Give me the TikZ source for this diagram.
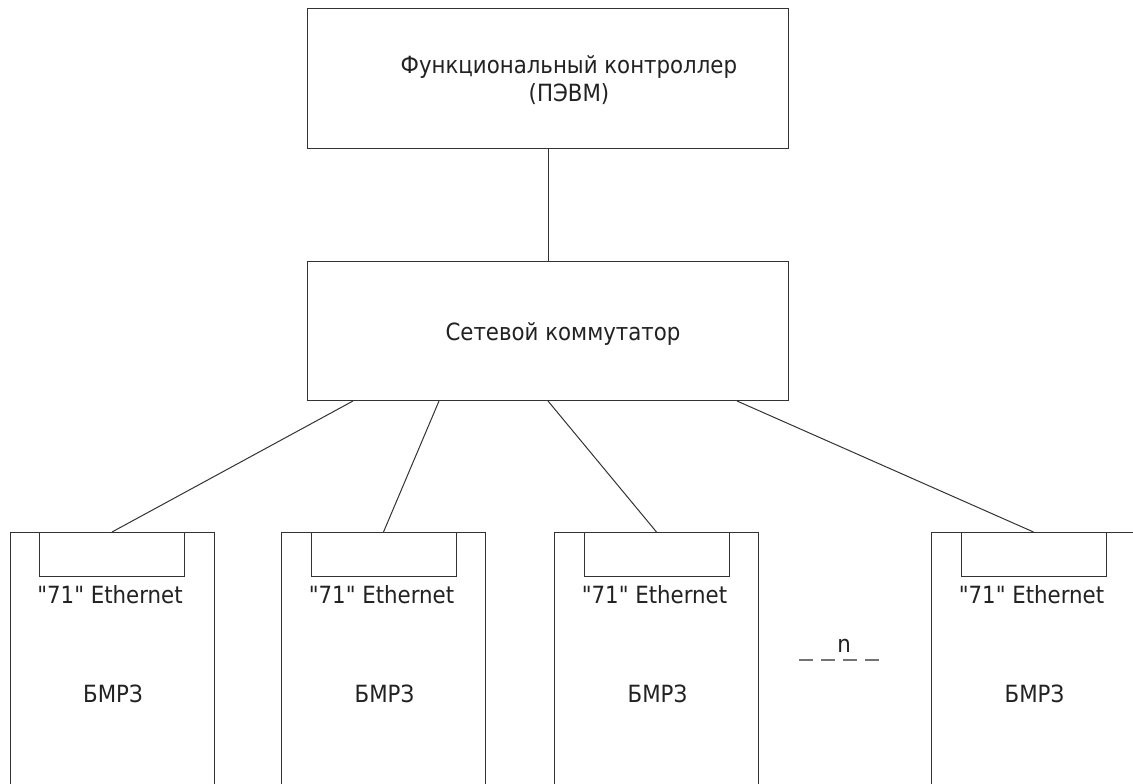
\documentclass[tikz,border=0pt]{standalone}
\usepackage{fontspec}
\setmainfont{DejaVu Sans Condensed}[Ligatures=TeXOff]
\usetikzlibrary{calc}
\definecolor{linecol}{HTML}{333333}
\definecolor{txtcol}{HTML}{222222}
\begin{document}
\begin{tikzpicture}[x=1pt,y=-1pt,
  box/.style={draw=linecol,line width=1pt,inner sep=0pt,anchor=north west},
  modbox/.style={box,minimum width=204pt,minimum height=300pt},
  portbox/.style={box,minimum width=145pt,minimum height=44pt},
  lbl/.style={text=txtcol,font=\fontsize{23.7}{28.4}\selectfont,inner sep=0pt},
  conn/.style={draw=linecol,line width=1pt}]
\useasboundingbox (0,0) rectangle (1133,784);
\clip (0,0) rectangle (1133,784);
\fill[white] (0,0) rectangle (1133,784);
% top boxes
\node[box,minimum width=481pt,minimum height=140pt] (ctrl) at (307,8) {};
\node[lbl,align=center] (ctrltxt) at ($(ctrl.center)+(21,1.5)$) {Функциональный контроллер\\(ПЭВМ)};
\node[box,minimum width=481pt,minimum height=139pt] (sw) at (307,261) {};
\node[lbl,anchor=base] (swtxt) at (563,340) {Сетевой коммутатор};
% modules
\node[modbox] (m1) at (9.5,532) {};
\node[modbox] (m2) at (281,532) {};
\node[modbox] (m3) at (554,532) {};
\node[modbox] (m4) at (931,532) {};
\foreach \i in {1,2,3,4}{
  \node[portbox] (p\i) at ($(m\i.north west)+(29.5,0)$) {};
  \node[lbl,anchor=base] (e\i) at ($(m\i.north)+(-2,71)$) {"71" Ethernet};
  \node[lbl,anchor=base] (b\i) at ($(m\i.north)+(1,170)$) {БМРЗ};
}
% connectors
\draw[conn] (ctrl.south) -- (sw.north);
\draw[conn] ($(sw.south west)+(46,0)$) -- (p1.north);
\draw[conn] ($(sw.south west)+(132,0)$) -- (p2.north);
\draw[conn] ($(sw.south west)+(241,0)$) -- (p3.north);
\draw[conn] ($(sw.south west)+(430,0)$) -- (p4.north);
% n ellipsis
\coordinate (d1) at (799,660);
\coordinate (d2) at (879,660);
\draw[draw=black!55,line width=1.6pt,dash pattern=on 14pt off 8pt] (d1) -- (d2);
\node[lbl,anchor=base] (n) at (844,652) {n};
\end{tikzpicture}
\end{document}
